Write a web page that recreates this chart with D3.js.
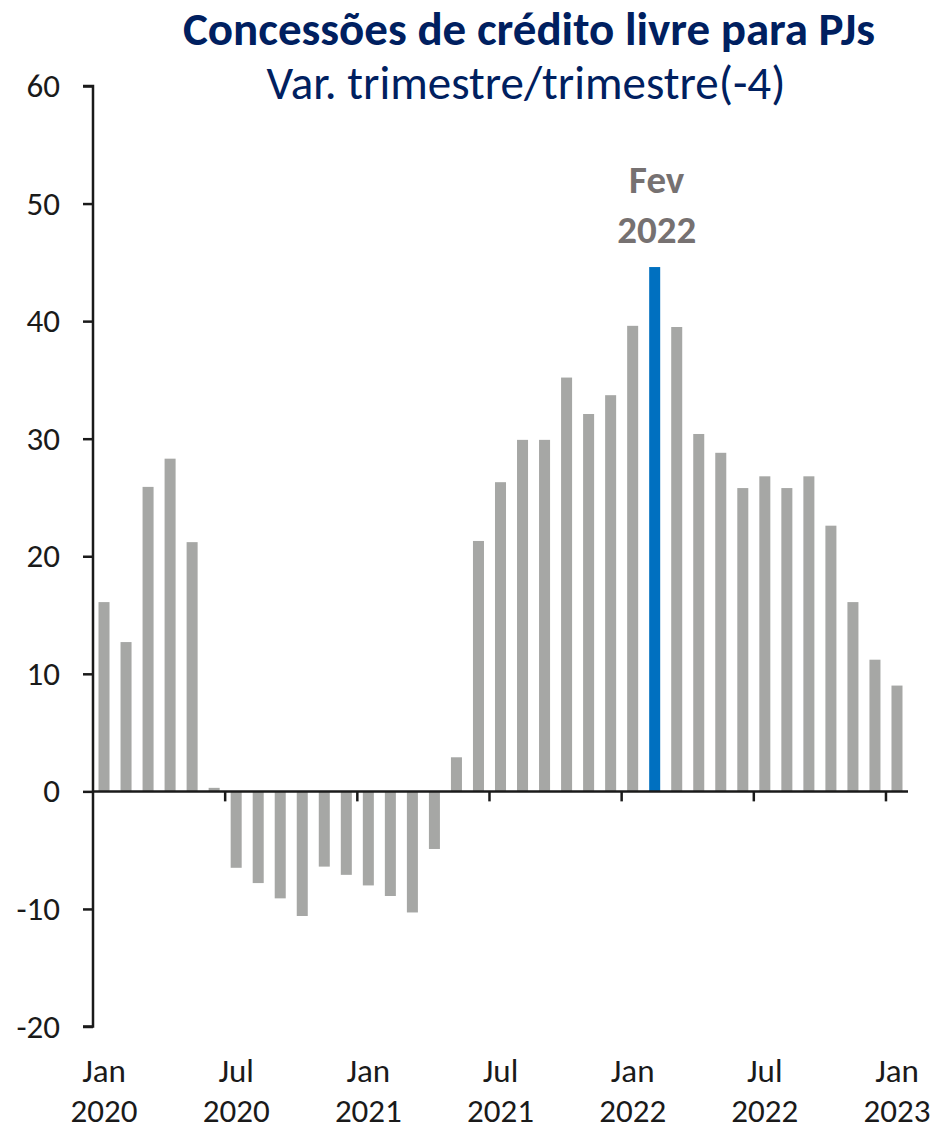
<!DOCTYPE html>
<html>
<head>
<meta charset="utf-8">
<script src="https://cdn.jsdelivr.net/npm/d3@7"></script>
<style>
  html, body { margin: 0; padding: 0; background: #ffffff; }
  svg { display: block; }
</style>
</head>
<body>
<svg id="chart" width="935" height="1130"></svg>
<script>
// Monthly periods, Jan 2020 – Jan 2023
const months = [
  "2020-01","2020-02","2020-03","2020-04","2020-05","2020-06",
  "2020-07","2020-08","2020-09","2020-10","2020-11","2020-12",
  "2021-01","2021-02","2021-03","2021-04","2021-05","2021-06",
  "2021-07","2021-08","2021-09","2021-10","2021-11","2021-12",
  "2022-01","2022-02","2022-03","2022-04","2022-05","2022-06",
  "2022-07","2022-08","2022-09","2022-10","2022-11","2022-12",
  "2023-01"
];

// Variation, quarter vs. same quarter of previous year (%)
const values = [
  16.1, 12.7, 25.9, 28.3, 21.2, 0.3,
  -6.5, -7.8, -9.1, -10.6, -6.4, -7.1,
  -8.0, -8.9, -10.3, -4.9, 2.9, 21.3,
  26.3, 29.9, 29.9, 35.2, 32.1, 33.7,
  39.6, 44.6, 39.5, 30.4, 28.8, 25.8,
  26.8, 25.8, 26.8, 22.6, 16.1, 11.2,
  9.0
];

const highlightMonth = "2022-02";

// Labelled periods on the x axis (every six months)
const xLabelMonths = ["2020-01","2020-07","2021-01","2021-07","2022-01","2022-07","2023-01"];
const xLabelLines = [
  ["Jan","2020"],["Jul","2020"],["Jan","2021"],["Jul","2021"],
  ["Jan","2022"],["Jul","2022"],["Jan","2023"]
];

const yTicks = [-20, -10, 0, 10, 20, 30, 40, 50, 60];

const titleText = "Concessões de crédito livre para PJs";
const subtitleText = "Var. trimestre/trimestre(-4)";
const annotationLines = ["Fev", "2022"];

// ---------------------------------------------------------------
const svg = d3.select("#chart");
const font = "Carlito, Calibri, 'Open Sans', 'Noto Sans', sans-serif";
const navy = "#002060";
const axisColor = "#1a1a1a";

const plotLeft = 93, plotRight = 908, plotTop = 86, plotBottom = 1026.5;

const x = d3.scaleBand()
  .domain(months)
  .range([plotLeft, plotRight])
  .paddingInner(0.5)
  .paddingOuter(0.25);

const y = d3.scaleLinear()
  .domain([-20, 60])
  .range([plotBottom, plotTop]);

// Bars
svg.append("g")
  .selectAll("rect")
  .data(months.map((m, i) => ({ m, v: values[i] })))
  .join("rect")
  .attr("x", d => x(d.m))
  .attr("width", x.bandwidth())
  .attr("y", d => y(Math.max(0, d.v)))
  .attr("height", d => Math.abs(y(d.v) - y(0)))
  .attr("fill", d => d.m === highlightMonth ? "#0070c0" : "#a6a7a5");

// Y axis
const yAxis = d3.axisLeft(y)
  .tickValues(yTicks)
  .tickSize(10)
  .tickPadding(23)
  .tickFormat(d => String(d));

const gy = svg.append("g")
  .attr("transform", `translate(${plotLeft},0)`)
  .call(yAxis);
gy.select(".domain").attr("stroke", axisColor).attr("stroke-width", 2.5)
  .attr("d", `M-10,${plotTop}H0V${plotBottom}H-10`);
gy.selectAll(".tick line").attr("stroke", axisColor).attr("stroke-width", 2.5);
gy.selectAll(".tick text")
  .attr("fill", axisColor)
  .style("font-family", font)
  .style("font-size", "33px");

// X axis along zero, ticks at half-year boundaries
const step = x.step();
const boundaryTicks = months
  .map((m, i) => i)
  .filter(i => i > 0 && i % 6 === 0)
  .map(i => x(months[i]) - (step - x.bandwidth()) / 2);

const gx = svg.append("g");
gx.append("line")
  .attr("x1", plotLeft).attr("x2", plotRight)
  .attr("y1", y(0)).attr("y2", y(0))
  .attr("stroke", axisColor).attr("stroke-width", 2.5);
gx.selectAll("line.tick")
  .data(boundaryTicks)
  .join("line")
  .attr("class", "tick")
  .attr("x1", d => d).attr("x2", d => d)
  .attr("y1", y(0)).attr("y2", y(0) + 10)
  .attr("stroke", axisColor).attr("stroke-width", 2.5);

// X labels (two lines each)
const xl = svg.append("g")
  .selectAll("text")
  .data(xLabelMonths.map((m, i) => ({ m, lines: xLabelLines[i] })))
  .join("text")
  .attr("text-anchor", "middle")
  .attr("fill", axisColor)
  .style("font-family", font)
  .style("font-size", "33px");
xl.append("tspan")
  .attr("x", d => x(d.m) + x.bandwidth() / 2)
  .attr("y", 1082)
  .text(d => d.lines[0]);
xl.append("tspan")
  .attr("x", d => x(d.m) + x.bandwidth() / 2)
  .attr("y", 1122)
  .text(d => d.lines[1]);

// Annotation above the highlighted bar
const hx = x(highlightMonth) + x.bandwidth() / 2;
svg.append("g")
  .selectAll("text")
  .data(annotationLines)
  .join("text")
  .attr("x", hx + 2)
  .attr("y", (d, i) => 193 + i * 50)
  .attr("text-anchor", "middle")
  .attr("fill", "#767171")
  .style("font-family", font)
  .style("font-weight", "bold")
  .style("font-size", "39px")
  .text(d => d);

// Title and subtitle
svg.append("text")
  .attr("x", 529).attr("y", 45)
  .attr("text-anchor", "middle")
  .attr("fill", navy)
  .style("font-family", font)
  .style("font-weight", "bold")
  .style("font-size", "47px")
  .text(titleText);

svg.append("text")
  .attr("x", 526).attr("y", 99)
  .attr("text-anchor", "middle")
  .attr("fill", navy)
  .style("font-family", font)
  .style("font-size", "47px")
  .text(subtitleText);
</script>
</body>
</html>
